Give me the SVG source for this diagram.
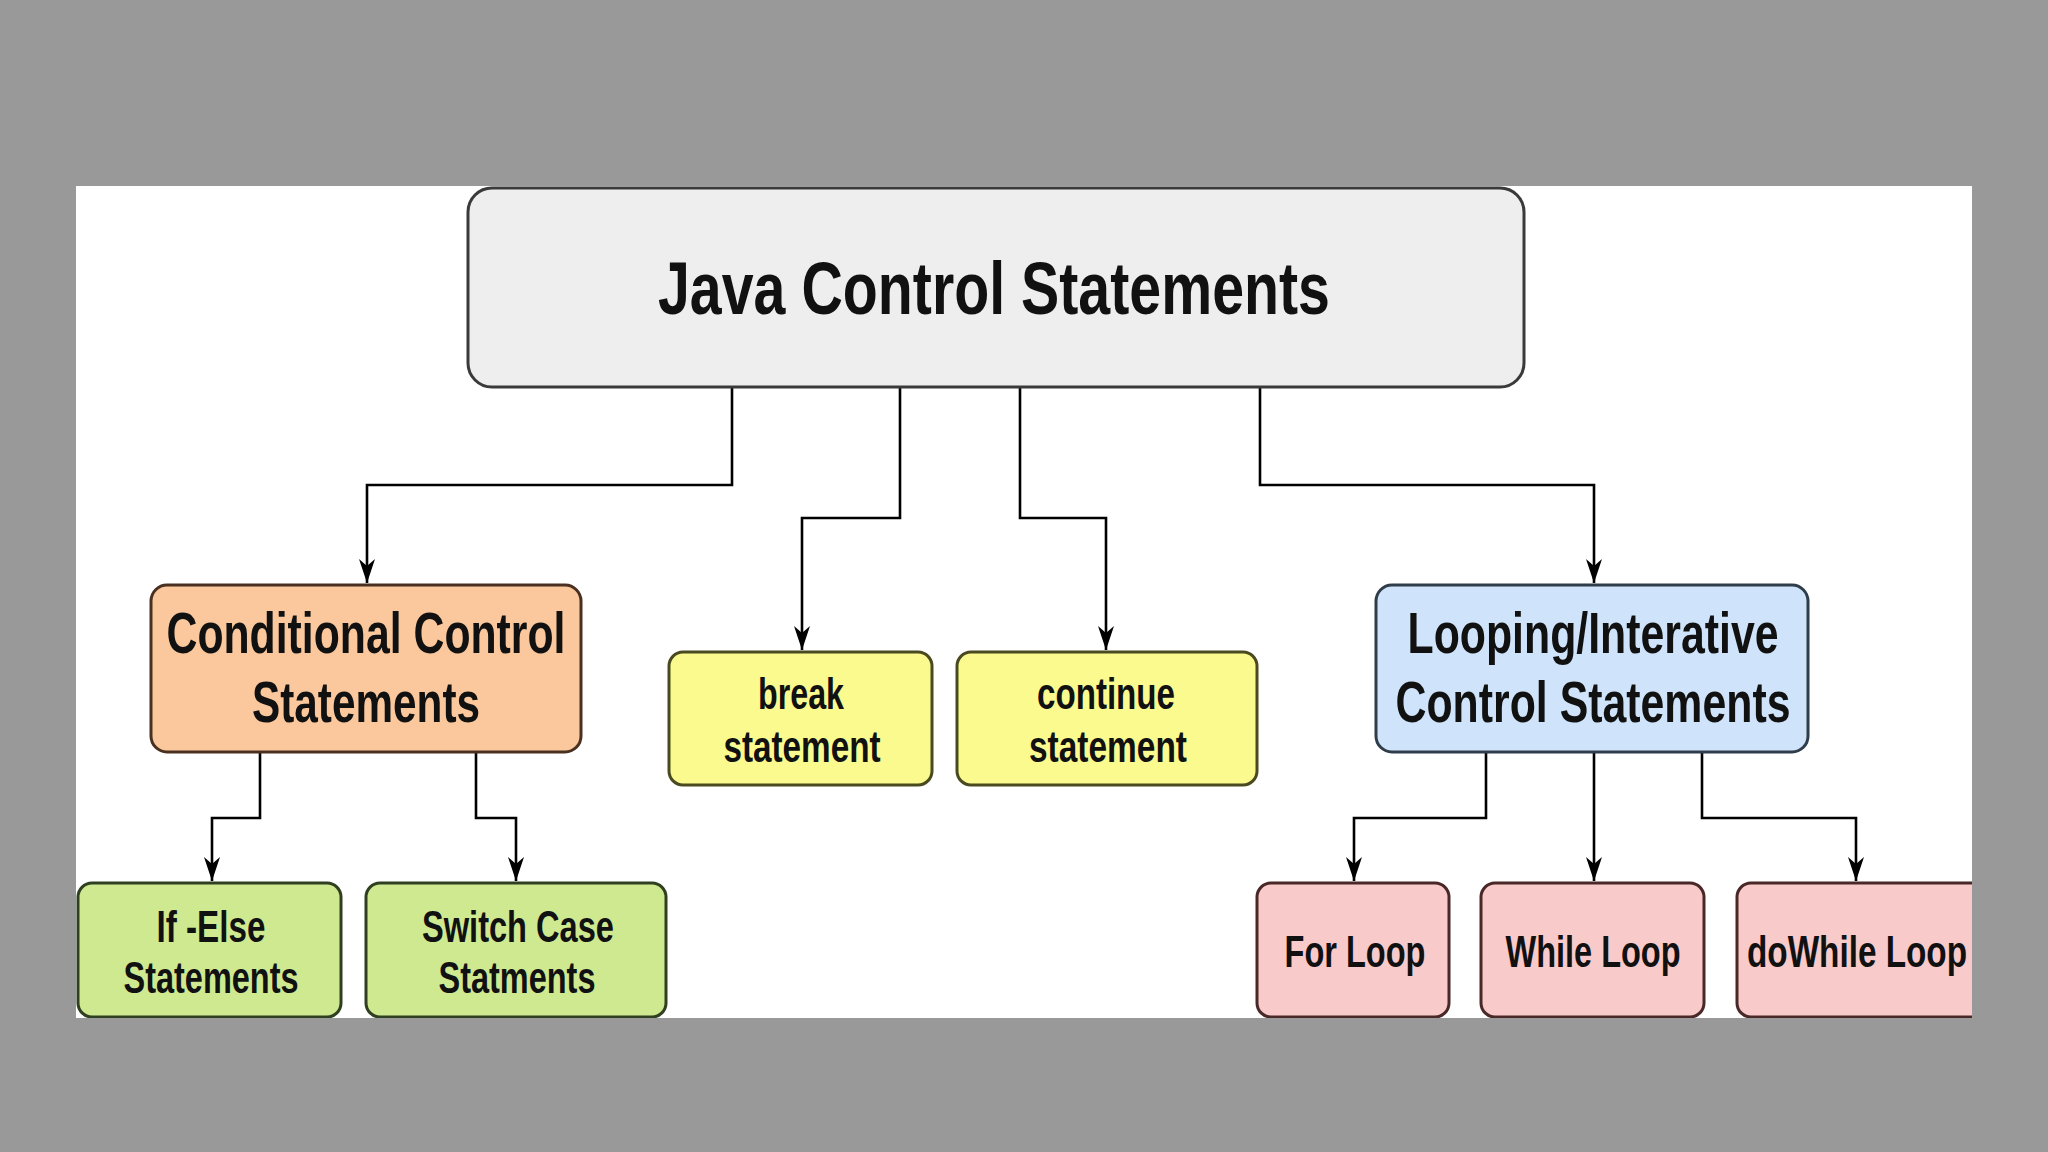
<svg xmlns="http://www.w3.org/2000/svg" width="2048" height="1152" viewBox="0 0 2048 1152">
<defs>
<style>
.t{font-family:"Liberation Sans Narrow","Liberation Sans",Arial,sans-serif;font-weight:bold;fill:#111;text-anchor:middle}
.c{fill:none;stroke:#000;stroke-width:2.6}
.root{fill:#eeeeee;stroke:#3a3a3a;stroke-width:3}
.cond{fill:#fac89c;stroke:#4a3020;stroke-width:3}
.loop{fill:#cfe4fa;stroke:#2f3d4a;stroke-width:3}
.yel{fill:#fafa8e;stroke:#4a4a20;stroke-width:3}
.grn{fill:#cfe991;stroke:#2f4020;stroke-width:3}
.pnk{fill:#f9caca;stroke:#4a2828;stroke-width:3}
</style>
<marker id="arr" viewBox="0 0 24 16" refX="24" refY="8" markerWidth="24" markerHeight="16" markerUnits="userSpaceOnUse" orient="auto">
<path d="M0,0 L24,8 L0,16 L7,8 z" fill="#000"/>
</marker>
<clipPath id="clip"><rect x="76" y="186" width="1896" height="832"/></clipPath>
</defs>
<rect x="0" y="0" width="2048" height="1152" fill="#999999"/>
<rect x="76" y="186" width="1896" height="832" fill="#ffffff"/>
<g clip-path="url(#clip)">
<g id="connectors">
<path class="c" d="M732,387 V485 H367 V583" marker-end="url(#arr)"/>
<path class="c" d="M900,387 V518 H802 V650" marker-end="url(#arr)"/>
<path class="c" d="M1020,387 V518 H1106 V650" marker-end="url(#arr)"/>
<path class="c" d="M1260,387 V485 H1594 V583" marker-end="url(#arr)"/>
<path class="c" d="M260,752 V818 H212 V881" marker-end="url(#arr)"/>
<path class="c" d="M476,752 V818 H516 V881" marker-end="url(#arr)"/>
<path class="c" d="M1486,752 V818 H1354 V881" marker-end="url(#arr)"/>
<path class="c" d="M1594,752 V881" marker-end="url(#arr)"/>
<path class="c" d="M1702,752 V818 H1856 V881" marker-end="url(#arr)"/>
</g>
<g id="root">
<rect class="root" x="468" y="188" width="1056" height="199" rx="24"/>
<text class="t" x="994" y="314" font-size="75" textLength="672" lengthAdjust="spacingAndGlyphs">Java Control Statements</text>
</g>
<g id="conditional">
<rect class="cond" x="151" y="585" width="430" height="167" rx="16"/>
<text class="t" x="366" y="653" font-size="57" textLength="399" lengthAdjust="spacingAndGlyphs">Conditional Control</text>
<text class="t" x="366" y="722" font-size="57" textLength="228" lengthAdjust="spacingAndGlyphs">Statements</text>
</g>
<g id="break">
<rect class="yel" x="669" y="652" width="263" height="133" rx="14"/>
<text class="t" x="801" y="709" font-size="44" textLength="86" lengthAdjust="spacingAndGlyphs">break</text>
<text class="t" x="802" y="762" font-size="44" textLength="157" lengthAdjust="spacingAndGlyphs">statement</text>
</g>
<g id="continue">
<rect class="yel" x="957" y="652" width="300" height="133" rx="14"/>
<text class="t" x="1106" y="709" font-size="44" textLength="138" lengthAdjust="spacingAndGlyphs">continue</text>
<text class="t" x="1108" y="762" font-size="44" textLength="158" lengthAdjust="spacingAndGlyphs">statement</text>
</g>
<g id="looping">
<rect class="loop" x="1376" y="585" width="432" height="167" rx="16"/>
<text class="t" x="1593" y="653" font-size="57" textLength="371" lengthAdjust="spacingAndGlyphs">Looping/Interative</text>
<text class="t" x="1593" y="722" font-size="57" textLength="395" lengthAdjust="spacingAndGlyphs">Control Statements</text>
</g>
<g id="ifelse">
<rect class="grn" x="78" y="883" width="263" height="134" rx="14"/>
<text class="t" x="211" y="942" font-size="45" textLength="109" lengthAdjust="spacingAndGlyphs">If -Else</text>
<text class="t" x="211" y="993" font-size="45" textLength="175" lengthAdjust="spacingAndGlyphs">Statements</text>
</g>
<g id="switch">
<rect class="grn" x="366" y="883" width="300" height="134" rx="14"/>
<text class="t" x="518" y="942" font-size="45" textLength="192" lengthAdjust="spacingAndGlyphs">Switch Case</text>
<text class="t" x="517" y="993" font-size="45" textLength="157" lengthAdjust="spacingAndGlyphs">Statments</text>
</g>
<g id="forloop">
<rect class="pnk" x="1257" y="883" width="192" height="134" rx="14"/>
<text class="t" x="1355" y="967" font-size="44" textLength="141" lengthAdjust="spacingAndGlyphs">For Loop</text>
</g>
<g id="whileloop">
<rect class="pnk" x="1481" y="883" width="223" height="134" rx="14"/>
<text class="t" x="1593" y="967" font-size="44" textLength="175" lengthAdjust="spacingAndGlyphs">While Loop</text>
</g>
<g id="dowhileloop">
<rect class="pnk" x="1737" y="883" width="250" height="134" rx="14"/>
<text class="t" x="1857" y="967" font-size="44" textLength="220" lengthAdjust="spacingAndGlyphs">doWhile Loop</text>
</g>
</g>
</svg>
